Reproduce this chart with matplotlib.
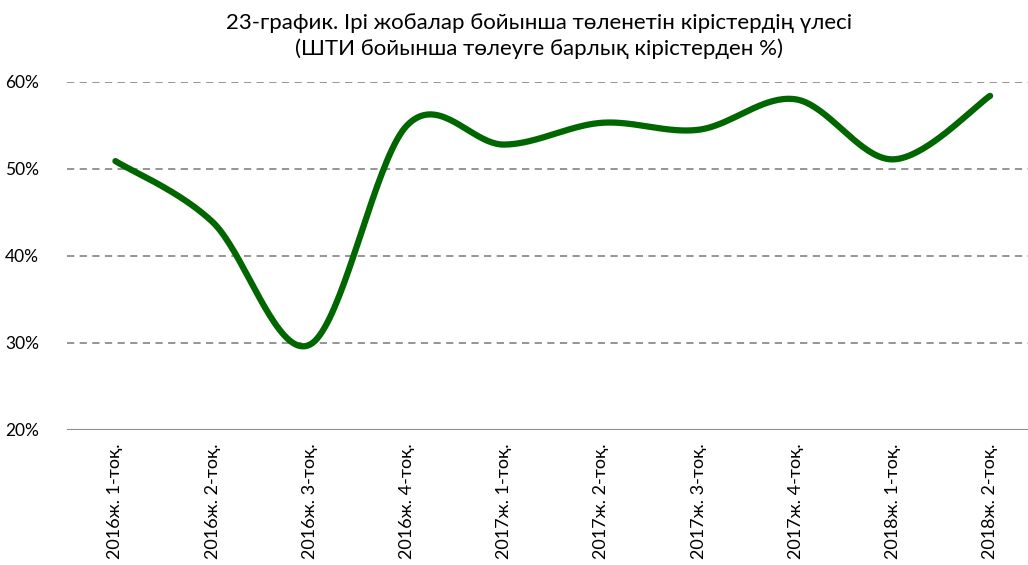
import numpy as np
import matplotlib
matplotlib.use("Agg")
import matplotlib.pyplot as plt
from matplotlib.ticker import FuncFormatter

plt.rcParams['font.family'] = ['Lato', 'Noto Sans', 'DejaVu Sans']

quarters = [
    "2016ж. 1-тоқ.", "2016ж. 2-тоқ.", "2016ж. 3-тоқ.", "2016ж. 4-тоқ.",
    "2017ж. 1-тоқ.", "2017ж. 2-тоқ.", "2017ж. 3-тоқ.", "2017ж. 4-тоқ.",
    "2018ж. 1-тоқ.", "2018ж. 2-тоқ.",
]
share = [50.9, 43.9, 29.8, 55.0, 52.8, 55.3, 54.5, 58.0, 51.1, 58.4]

title = ("23-график. Ірі жобалар бойынша төленетін кірістердің үлесі\n"
         "(ШТИ бойынша төлеуге барлық кірістерден %)")


def smooth(x, y, n=40):
    # catmull-rom style bezier, close to Excel's "smoothed line"
    x = np.asarray(x, float)
    y = np.asarray(y, float)
    px = np.concatenate([[x[0]], x, [x[-1]]])
    py = np.concatenate([[y[0]], y, [y[-1]]])
    xs, ys = [], []
    t = np.linspace(0, 1, n)
    for i in range(1, len(px) - 2):
        p0 = np.array([px[i], py[i]])
        p3 = np.array([px[i + 1], py[i + 1]])
        c1 = p0 + (np.array([px[i + 1], py[i + 1]]) - np.array([px[i - 1], py[i - 1]])) / 6
        c2 = p3 - (np.array([px[i + 2], py[i + 2]]) - np.array([px[i], py[i]])) / 6
        b = ((1 - t) ** 3)[:, None] * p0 + (3 * (1 - t) ** 2 * t)[:, None] * c1 \
            + (3 * (1 - t) * t ** 2)[:, None] * c2 + (t ** 3)[:, None] * p3
        xs.extend(b[:, 0])
        ys.extend(b[:, 1])
    return np.array(xs), np.array(ys)


fig = plt.figure(figsize=(10.28, 5.65), dpi=100)
ax = fig.add_axes([0.065, 0.239, 0.935, 0.616])

xs, ys = smooth(range(len(share)), share)
ax.plot(xs, ys, color="#006600", lw=4.5, solid_capstyle="round", zorder=3)

ax.set_ylim(20, 60)
ax.set_xlim(-0.5, 9.39)
ax.set_yticks([20, 30, 40, 50, 60])
ax.yaxis.set_major_formatter(FuncFormatter(lambda v, p: f"{v:.0f}%"))
for v in [30, 40, 50, 60]:
    ax.axhline(v, color="#8c8c8c", lw=1.3, ls=(0, (4, 3)), zorder=1)
ax.axhline(20, color="#8c8c8c", lw=1.5, zorder=2)

ax.set_xticks(range(len(quarters)))
ax.set_xticklabels(quarters, rotation=90, fontsize=13)
ax.tick_params(axis="x", length=0, pad=10)
ax.tick_params(axis="y", length=0, labelsize=12.5, pad=20)

for s in ax.spines.values():
    s.set_visible(False)

fig.text(0.524, 0.977, title, ha="center", va="top", fontsize=16, linespacing=1.3)

fig.savefig("out.png", dpi=100)
